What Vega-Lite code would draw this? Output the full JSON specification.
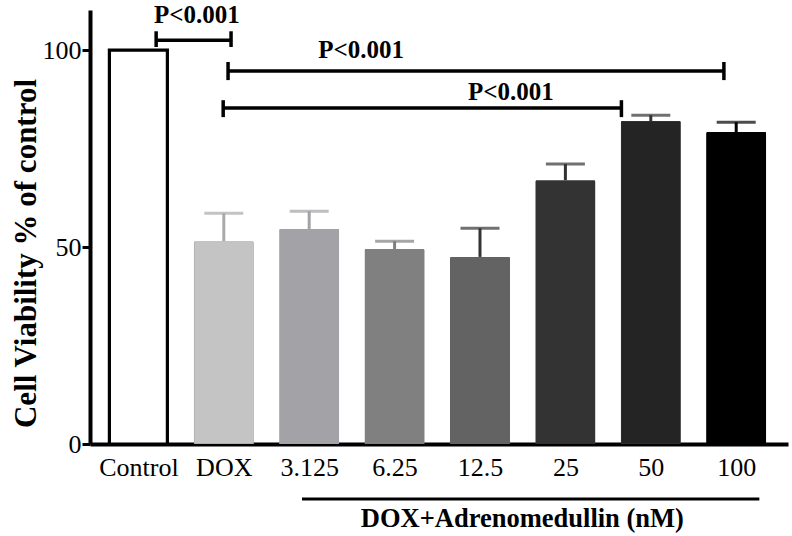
{
  "$schema": "https://vega.github.io/schema/vega-lite/v6.json",
  "autosize": {"type": "none"},
  "padding": {"left": 90, "top": 10, "right": 4, "bottom": 92},
  "width": 698,
  "height": 434,
  "datasets": {
    "bars": [
      {"group": "Control", "pos": 1, "mean": 100, "upper": null},
      {"group": "DOX", "pos": 2, "mean": 51.5, "upper": 58.6},
      {"group": "3.125", "pos": 3, "mean": 54.6, "upper": 59.1},
      {"group": "6.25", "pos": 4, "mean": 49.5, "upper": 51.5},
      {"group": "12.5", "pos": 5, "mean": 47.5, "upper": 54.8},
      {"group": "25", "pos": 6, "mean": 67.0, "upper": 71.1},
      {"group": "50", "pos": 7, "mean": 82.0, "upper": 83.5},
      {"group": "100", "pos": 8, "mean": 79.2, "upper": 81.7}
    ],
    "brackets": [
      {"from": 1.208, "to": 2.085, "level": 102.5, "lo": 100.8, "hi": 104.8, "lx": 1.685, "ly": 106.9, "label": "P<0.001"},
      {"from": 2.05, "to": 7.856, "level": 94.7, "lo": 92.4, "hi": 97.0, "lx": 3.608, "ly": 98.0, "label": "P<0.001"},
      {"from": 1.993, "to": 6.656, "level": 85.3, "lo": 83.0, "hi": 87.3, "lx": 5.363, "ly": 87.3, "label": "P<0.001"}
    ],
    "groupline": [
      {"from": 2.916, "to": 8.271, "level": -13.96, "mid": 5.496, "ly": -21.07, "label": "DOX+Adrenomedullin (nM)"}
    ]
  },
  "layer": [
    {
      "data": {"name": "bars"},
      "transform": [{"filter": "datum.group !== 'Control'"}],
      "mark": {"type": "bar", "width": 60, "strokeWidth": 1.5, "cornerRadiusTopLeft": 1.5, "cornerRadiusTopRight": 1.5},
      "encoding": {
        "x": {
          "field": "pos",
          "type": "quantitative",
          "scale": {"domain": [0.492, 8.548], "nice": false, "zero": false},
          "axis": {
            "values": [1, 2, 3, 4, 5, 6, 7, 8],
            "labelExpr": "['Control','DOX','3.125','6.25','12.5','25','50','100'][datum.value - 1]",
            "ticks": false,
            "tickSize": 0,
            "labelPadding": 10,
            "labelFontSize": 26,
            "labelFont": "Liberation Serif",
            "labelColor": "black",
            "domainColor": "black",
            "domainWidth": 4,
            "grid": false,
            "title": null
          }
        },
        "y": {
          "field": "mean",
          "type": "quantitative",
          "scale": {"domain": [0, 110.2], "nice": false},
          "axis": {
            "values": [0, 50, 100],
            "tickSize": 8,
            "tickWidth": 3,
            "tickColor": "black",
            "labelPadding": 1,
            "labelFontSize": 26,
            "labelFont": "Liberation Serif",
            "labelColor": "black",
            "domainColor": "black",
            "domainWidth": 4,
            "grid": false,
            "title": "Cell Viability % of control",
            "titleFont": "Liberation Serif",
            "titleFontSize": 31,
            "titleFontWeight": "bold",
            "titleColor": "black",
            "titleAngle": -90,
            "titleX": -64,
            "titleY": 243,
            "titleAlign": "center",
            "titleBaseline": "middle"
          }
        },
        "fill": {
          "field": "group",
          "type": "nominal",
          "scale": {
            "domain": ["Control", "DOX", "3.125", "6.25", "12.5", "25", "50", "100"],
            "range": ["#ffffff", "#c4c4c4", "#a3a3a7", "#808080", "#636363", "#333333", "#242424", "#000000"]
          },
          "legend": null
        },
        "stroke": {
          "field": "group",
          "type": "nominal",
          "scale": {
            "domain": ["Control", "DOX", "3.125", "6.25", "12.5", "25", "50", "100"],
            "range": ["#000000", "#a8a8a8", "#a3a3a7", "#808080", "#636363", "#333333", "#333333", "#000000"]
          },
          "legend": null
        }
      }
    },
    {
      "data": {"name": "bars"},
      "transform": [{"filter": "datum.group === 'Control'"}],
      "mark": {"type": "bar", "width": 58, "strokeWidth": 3.2, "fill": "white", "stroke": "black"},
      "encoding": {
        "x": {"field": "pos", "type": "quantitative"},
        "y": {"field": "mean", "type": "quantitative"}
      }
    },
    {
      "data": {"name": "bars"},
      "transform": [{"filter": "datum.upper != null"}],
      "mark": {"type": "rule", "strokeWidth": 3},
      "encoding": {
        "x": {"field": "pos", "type": "quantitative"},
        "y": {"field": "mean", "type": "quantitative"},
        "y2": {"field": "upper"},
        "color": {
          "field": "group",
          "type": "nominal",
          "scale": {
            "domain": ["DOX", "3.125", "6.25", "12.5", "25", "50", "100"],
            "range": ["#aaaaaa", "#a3a3a7", "#808080", "#333333", "#333333", "#333333", "#000000"]
          },
          "legend": null
        }
      }
    },
    {
      "data": {"name": "bars"},
      "transform": [{"filter": "datum.upper != null"}],
      "mark": {"type": "tick", "orient": "horizontal", "size": 39, "thickness": 3},
      "encoding": {
        "x": {"field": "pos", "type": "quantitative"},
        "y": {"field": "upper", "type": "quantitative"},
        "color": {"field": "group", "type": "nominal", "legend": null}
      }
    },
    {
      "data": {"name": "brackets"},
      "mark": {"type": "rule", "strokeWidth": 3.5, "color": "black"},
      "encoding": {
        "x": {"field": "from", "type": "quantitative"},
        "x2": {"field": "to"},
        "y": {"field": "level", "type": "quantitative"}
      }
    },
    {
      "data": {"name": "brackets"},
      "mark": {"type": "rule", "strokeWidth": 3.5, "color": "black"},
      "encoding": {
        "x": {"field": "from", "type": "quantitative"},
        "y": {"field": "lo", "type": "quantitative"},
        "y2": {"field": "hi"}
      }
    },
    {
      "data": {"name": "brackets"},
      "mark": {"type": "rule", "strokeWidth": 3.5, "color": "black"},
      "encoding": {
        "x": {"field": "to", "type": "quantitative"},
        "y": {"field": "lo", "type": "quantitative"},
        "y2": {"field": "hi"}
      }
    },
    {
      "data": {"name": "brackets"},
      "mark": {"type": "text", "font": "Liberation Serif", "fontSize": 25, "fontWeight": "bold", "align": "center", "baseline": "alphabetic", "color": "black"},
      "encoding": {
        "x": {"field": "lx", "type": "quantitative"},
        "y": {"field": "ly", "type": "quantitative"},
        "text": {"field": "label", "type": "nominal"}
      }
    },
    {
      "data": {"name": "groupline"},
      "mark": {"type": "rule", "strokeWidth": 3, "color": "black"},
      "encoding": {
        "x": {"field": "from", "type": "quantitative"},
        "x2": {"field": "to"},
        "y": {"field": "level", "type": "quantitative"}
      }
    },
    {
      "data": {"name": "groupline"},
      "mark": {"type": "text", "font": "Liberation Serif", "fontSize": 26.5, "fontWeight": "bold", "align": "center", "baseline": "alphabetic", "color": "black"},
      "encoding": {
        "x": {"field": "mid", "type": "quantitative"},
        "y": {"field": "ly", "type": "quantitative"},
        "text": {"field": "label", "type": "nominal"}
      }
    }
  ],
  "config": {
    "view": {"stroke": null},
    "font": "Liberation Serif"
  }
}
